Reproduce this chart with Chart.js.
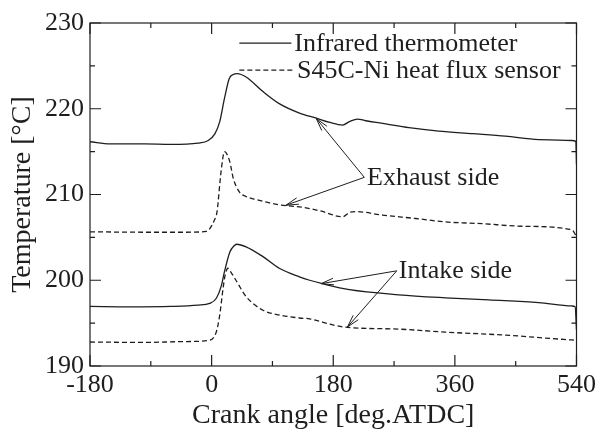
<!DOCTYPE html>
<html>
<head>
<meta charset="utf-8">
<script src="https://cdn.jsdelivr.net/npm/chart.js@4.4.1/dist/chart.umd.min.js"></script>
<style>
  html, body { margin: 0; padding: 0; background: #fff; }
  #wrap { width: 600px; height: 436px; }
</style>
</head>
<body>
<div id="wrap"><canvas id="tempChart" width="600" height="436"></canvas></div>
<script>
// ==================== DATA ====================
// crank angle [deg.ATDC] / temperature [°C]

// exhaust side, infrared thermometer
const exIrAng  = [-180, -150, -100, -60, -20, -5, 5, 12, 19, 26, 32, 38, 51, 76, 100, 130, 155, 175, 194, 204, 216, 228, 253, 292, 336, 386, 435, 484, 533, 539, 540];
const exIrTemp = [216.15, 215.9, 215.9, 215.85, 216.0, 216.3, 217.1, 218.5, 221.2, 223.5, 224.0, 224.1, 223.7, 222.0, 220.6, 219.5, 218.9, 218.4, 218.1, 218.5, 218.8, 218.6, 218.3, 217.8, 217.4, 217.1, 216.8, 216.4, 216.3, 216.2, 213.5];

// exhaust side, S45C-Ni heat flux sensor
const exHfAng  = [-180, -100, -40, -8, 4, 8, 14, 19, 22, 27, 32, 41, 50, 66, 100, 135, 160, 194, 204, 214, 253, 302, 346, 400, 459, 533, 540];
const exHfTemp = [205.65, 205.6, 205.6, 205.7, 207.0, 208.0, 212.7, 215.0, 214.8, 213.8, 211.9, 210.3, 209.8, 209.4, 208.8, 208.5, 208.1, 207.4, 207.9, 208.0, 207.6, 207.2, 206.8, 206.6, 206.3, 205.9, 205.1];

// intake side, infrared thermometer
const inIrAng  = [-180, -120, -60, -20, -3, 7, 14, 19, 27, 33, 37, 51, 76, 100, 130, 145, 164, 204, 277, 346, 410, 484, 533, 538, 540];
const inIrTemp = [196.95, 196.9, 196.95, 197.1, 197.3, 197.9, 199.25, 201.0, 203.3, 204.0, 204.2, 203.9, 202.75, 201.4, 200.4, 200.0, 199.6, 198.9, 198.3, 197.95, 197.7, 197.4, 197.0, 196.9, 194.2];

// intake side, S45C-Ni heat flux sensor
const inHfAng  = [-180, -100, -40, -3, 7, 12, 17, 20, 24, 28, 36, 51, 76, 100, 130, 145, 179, 201, 277, 346, 435, 521, 540];
const inHfTemp = [192.8, 192.75, 192.85, 193.0, 194.0, 195.95, 199.1, 200.6, 201.4, 201.0, 200.0, 198.1, 196.5, 195.95, 195.6, 195.5, 194.8, 194.5, 194.3, 193.95, 193.6, 193.1, 193.0];

const xTicks = [-180, 0, 180, 360, 540];
const yTicks = [190, 200, 210, 220, 230];
const seriesNames = ['Infrared thermometer', 'S45C-Ni heat flux sensor'];

// ==================== STYLE ====================
const INK = '#1e1e1e';
const FONT = "'Liberation Serif', 'Times New Roman', serif";
const DASH = [5, 3];

function pts(a, t) { return a.map((v, i) => ({ x: v, y: t[i] })); }
function ds(a, t, dashed) {
  return {
    data: pts(a, t), showLine: true, pointRadius: 0, borderWidth: 1.3,
    borderColor: INK, borderDash: dashed ? DASH : [], cubicInterpolationMode: 'monotone'
  };
}

// notes in data units: legend rows, labels and their arrows
const legendRows = [
  { x0: 41, x1: 118, y: 227.65, text: seriesNames[0], dashed: false },
  { x0: 41, x1: 122, y: 224.5,  text: seriesNames[1], dashed: true }
];
const notes = [
  { text: 'Exhaust side', x: 230, y: 212.0, from: [226, 212.0], to: [[155, 218.85], [110, 208.75]] },
  { text: 'Intake side',  x: 277, y: 201.2, from: [274, 201.1], to: [[162, 199.6], [201, 194.55]] }
];

function arrow(ctx, x0, y0, x1, y1) {
  const ang = Math.atan2(y1 - y0, x1 - x0), L = 13, w = 0.26;
  ctx.moveTo(x0, y0); ctx.lineTo(x1, y1);
  ctx.moveTo(x1 - L * Math.cos(ang - w), y1 - L * Math.sin(ang - w)); ctx.lineTo(x1, y1);
  ctx.lineTo(x1 - L * Math.cos(ang + w), y1 - L * Math.sin(ang + w));
}

const frameTicks = {
  id: 'frameTicks',
  afterDatasetsDraw(chart) {
    const { ctx, chartArea: a, scales: { x, y } } = chart;
    ctx.save();
    ctx.strokeStyle = INK; ctx.lineWidth = 1.2;
    ctx.strokeRect(a.left, a.top, a.right - a.left, a.bottom - a.top);
    ctx.beginPath();
    for (let v = xTicks[0]; v <= xTicks[xTicks.length - 1]; v += 90) {
      const p = x.getPixelForValue(v), len = xTicks.includes(v) ? 11 : 5;
      ctx.moveTo(p, a.bottom); ctx.lineTo(p, a.bottom - len);
      ctx.moveTo(p, a.top); ctx.lineTo(p, a.top + len);
    }
    for (let v = yTicks[0]; v <= yTicks[yTicks.length - 1]; v += 5) {
      const p = y.getPixelForValue(v), len = yTicks.includes(v) ? 11 : 5;
      ctx.moveTo(a.left, p); ctx.lineTo(a.left + len, p);
      ctx.moveTo(a.right, p); ctx.lineTo(a.right - len, p);
    }
    ctx.stroke();

    // legend
    ctx.font = '26px ' + FONT; ctx.fillStyle = INK;
    ctx.textBaseline = 'middle'; ctx.textAlign = 'left';
    legendRows.forEach(r => {
      const py = y.getPixelForValue(r.y);
      ctx.setLineDash(r.dashed ? DASH : []);
      ctx.lineWidth = 1.3;
      ctx.beginPath();
      ctx.moveTo(x.getPixelForValue(r.x0), py); ctx.lineTo(x.getPixelForValue(r.x1), py);
      ctx.stroke();
      ctx.setLineDash([]);
      ctx.fillText(r.text, x.getPixelForValue(r.x1) + 3, py + 1);
    });

    // labels with arrows
    ctx.lineWidth = 1;
    notes.forEach(n => {
      ctx.fillText(n.text, x.getPixelForValue(n.x), y.getPixelForValue(n.y) + 1);
      const sx = x.getPixelForValue(n.from[0]), sy = y.getPixelForValue(n.from[1]);
      ctx.beginPath();
      n.to.forEach(t => arrow(ctx, sx, sy, x.getPixelForValue(t[0]), y.getPixelForValue(t[1])));
      ctx.stroke();
    });
    ctx.restore();
  }
};

new Chart(document.getElementById('tempChart'), {
  type: 'scatter',
  data: {
    datasets: [
      ds(exIrAng, exIrTemp, false),
      ds(exHfAng, exHfTemp, true),
      ds(inIrAng, inIrTemp, false),
      ds(inHfAng, inHfTemp, true)
    ]
  },
  options: {
    responsive: false, animation: false,
    layout: { padding: { top: 23, right: 22, left: 0, bottom: 0 } },
    plugins: { legend: { display: false }, tooltip: { enabled: false } },
    scales: {
      x: {
        type: 'linear', min: -180, max: 540,
        afterBuildTicks: s => { s.ticks = xTicks.map(v => ({ value: v })); },
        afterFit: s => { s.height = 70; },
        grid: { display: false, drawTicks: false }, border: { display: false },
        ticks: { color: INK, font: { family: FONT, size: 26 }, padding: 4, maxRotation: 0 },
        title: { display: true, text: 'Crank angle [deg.ATDC]', color: INK, font: { family: FONT, size: 28 }, padding: 4 }
      },
      y: {
        min: 190, max: 230,
        afterBuildTicks: s => { s.ticks = yTicks.map(v => ({ value: v })); },
        afterFit: s => { s.width = 90; },
        grid: { display: false, drawTicks: false }, border: { display: false },
        ticks: { color: INK, font: { family: FONT, size: 26 }, padding: 6 },
        title: { display: true, text: 'Temperature [°C]', color: INK, font: { family: FONT, size: 28 }, padding: 6 }
      }
    }
  },
  plugins: [frameTicks]
});
</script>
</body>
</html>
